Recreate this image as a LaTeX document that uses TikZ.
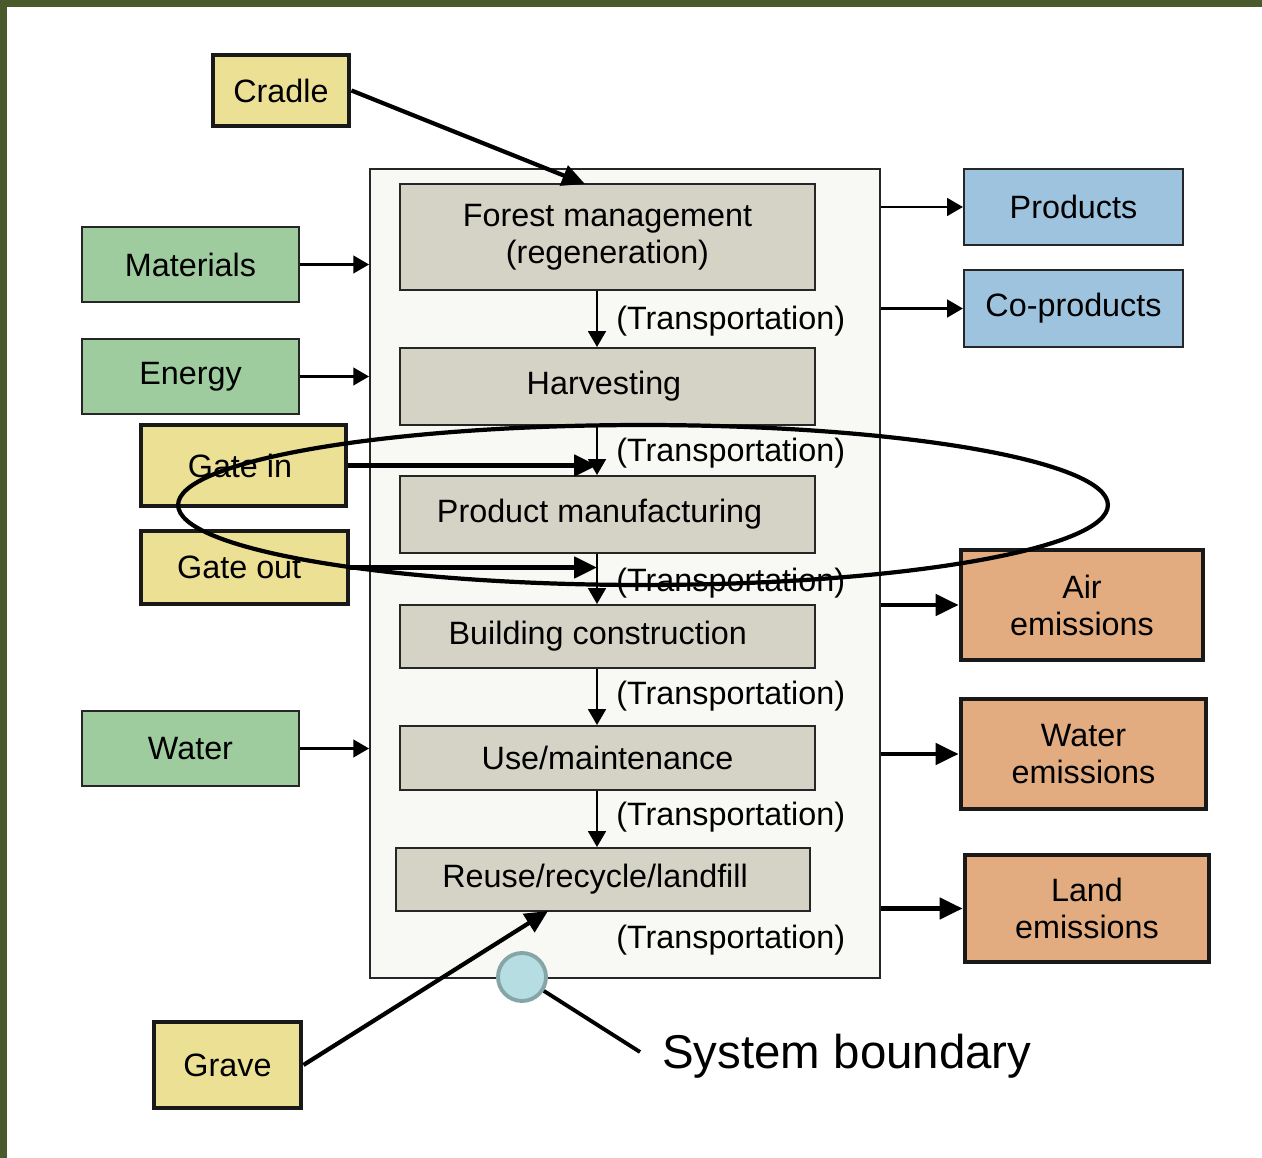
\documentclass[tikz,border=0pt]{standalone}
\usepackage{fontspec}
\setmainfont{Liberation Sans}
\usetikzlibrary{arrows.meta,shapes.geometric}
\definecolor{framegreen}{RGB}{75,90,42}
\definecolor{gateyellow}{RGB}{236,224,149}
\definecolor{flowgreen}{RGB}{159,204,159}
\definecolor{prodblue}{RGB}{157,195,223}
\definecolor{emitorange}{RGB}{226,172,128}
\definecolor{stagegray}{RGB}{213,211,197}
\definecolor{boundfill}{RGB}{248,248,244}
\definecolor{markfill}{RGB}{182,221,225}
\definecolor{markdraw}{RGB}{133,165,166}

\begin{document}
\begin{tikzpicture}[
    x=0.02cm, y=-0.02cm,
    every node/.style={font=\fontsize{18.4}{21}\selectfont, align=center},
    stage/.style={rectangle, draw=black!85, line width=1.1pt, fill=stagegray, minimum width=8.3cm, inner sep=0pt},
    flow/.style={rectangle, draw=black!85, line width=1.2pt, fill=flowgreen, minimum width=4.34cm, minimum height=1.5cm},
    product/.style={rectangle, draw=black!85, line width=1.2pt, fill=prodblue, minimum width=4.38cm},
    gate/.style={rectangle, draw=black!90, line width=2.8pt, fill=gateyellow},
    emission/.style={rectangle, draw=black!90, line width=2.8pt, fill=emitorange},
    trans/.style={anchor=west, inner sep=0pt},
    arrow/.style={line width=1.5pt, -{Triangle[length=9pt,width=10pt]}},
    bigarrow/.style={line width=2.4pt, -{Triangle[length=13pt,width=12pt]}}
]
\useasboundingbox (0,0) rectangle (1262,1158);
\fill[white] (0,0) rectangle (1262,1158);
\fill[framegreen] (0,0) rectangle (1262,7);
\fill[framegreen] (0,0) rectangle (7,1158);

% System boundary
\node[rectangle, draw=black!85, line width=1.1pt, fill=boundfill, minimum width=10.2cm, minimum height=16.18cm] (boundary) at (625,573.5) {};

% Life cycle stages
\node[stage, minimum height=2.12cm] (forest) at (607.5,237) {Forest management\\(regeneration)};
\node[stage, minimum height=1.54cm] (harvest) at (607.5,386.5) {Harvesting\hspace{4pt}};
\node[stage, minimum height=1.54cm] (manufact) at (607.5,514.5) {Product manufacturing\hspace{9pt}};
\node[stage, minimum height=1.26cm] (construct) at (607.5,636.5) {Building construction\hspace{11pt}};
\node[stage, minimum height=1.28cm] (use) at (607.5,758) {Use/maintenance};
\node[stage, minimum height=1.26cm, minimum width=8.28cm] (reuse) at (603,879.5) {Reuse/recycle/landfill\hspace{9pt}};

\coordinate (axis) at (597,0);
\draw[arrow] (forest.south -| axis) -- (harvest.north -| axis);
\draw[arrow] (harvest.south -| axis) -- (manufact.north -| axis);
\draw[arrow] (manufact.south -| axis) -- (construct.north -| axis);
\draw[arrow] (construct.south -| axis) -- (use.north -| axis);
\draw[arrow] (use.south -| axis) -- (reuse.north -| axis);

\node[trans] (trans_a) at (616,321) {(Transportation)};
\node[trans] (trans_b) at (616,453) {(Transportation)};
\node[trans] (trans_c) at (616,583) {(Transportation)};
\node[trans] (trans_d) at (616,696) {(Transportation)};
\node[trans] (trans_e) at (616,817) {(Transportation)};
\node[trans] (trans_f) at (616,940) {(Transportation)};

% Inputs
\node[gate, minimum width=2.72cm, minimum height=1.42cm] (cradle) at (281,90.5) {Cradle};
\node[flow] (materials) at (190.5,264.5) {Materials};
\node[flow] (energy) at (190.5,376.5) {Energy};
\node[gate, minimum width=4.1cm, minimum height=1.62cm] (gate_in) at (243.5,465.5) {Gate in\hspace{4pt}};
\node[gate, minimum width=4.14cm, minimum height=1.46cm] (gate_out) at (244.5,567.5) {Gate out\hspace{6pt}};
\node[flow] (water) at (190.5,748.5) {Water};
\node[gate, minimum width=2.94cm, minimum height=1.72cm] (grave) at (227.5,1065) {Grave};

\coordinate (cradle_tip) at (585,184);
\coordinate (grave_tip) at (548,911);
\draw[bigarrow] (cradle.east) -- (cradle_tip);
\draw[arrow] (materials.east) -- (materials.east -| boundary.west);
\draw[arrow] (energy.east) -- (energy.east -| boundary.west);
\draw[bigarrow] (gate_in.east) -- (gate_in.east -| axis);
\draw[bigarrow] (gate_out.east) -- (gate_out.east -| axis);
\draw[arrow] (water.east) -- (water.east -| boundary.west);
\draw[bigarrow] (grave.east) -- (grave_tip);

% Outputs
\node[product, minimum height=1.52cm] (products) at (1073.5,207) {Products};
\node[product, minimum height=1.54cm] (coproducts) at (1073.5,308.5) {Co-products};
\node[emission, minimum width=4.84cm, minimum height=2.2cm] (air) at (1082,605) {Air\\emissions};
\node[emission, minimum width=4.9cm, minimum height=2.2cm] (water_em) at (1083.5,754) {Water\\emissions};
\node[emission, minimum width=4.88cm, minimum height=2.14cm] (land) at (1087,908.5) {Land\\emissions};

\draw[arrow] (products.west -| boundary.east) -- (products.west);
\draw[arrow] (coproducts.west -| boundary.east) -- (coproducts.west);
\draw[bigarrow] (air.west -| boundary.east) -- (air.west);
\draw[bigarrow] (water_em.west -| boundary.east) -- (water_em.west);
\draw[bigarrow] (land.west -| boundary.east) -- (land.west);

% Gate-to-gate ring
\draw[line width=2.4pt] (643,505) ellipse [x radius=9.3cm, y radius=1.6cm];

% System boundary marker
\node[circle, draw=markdraw, line width=2.2pt, fill=markfill, minimum size=0.96cm] (marker) at (522,977) {};
\coordinate (marker_end) at (640,1052);
\draw[line width=2.2pt] (marker) -- (marker_end);
\node[anchor=west, inner sep=0pt, font=\fontsize{27}{32}\selectfont] (sys_label) at (662,1056) {System boundary};
\end{tikzpicture}
\end{document}
